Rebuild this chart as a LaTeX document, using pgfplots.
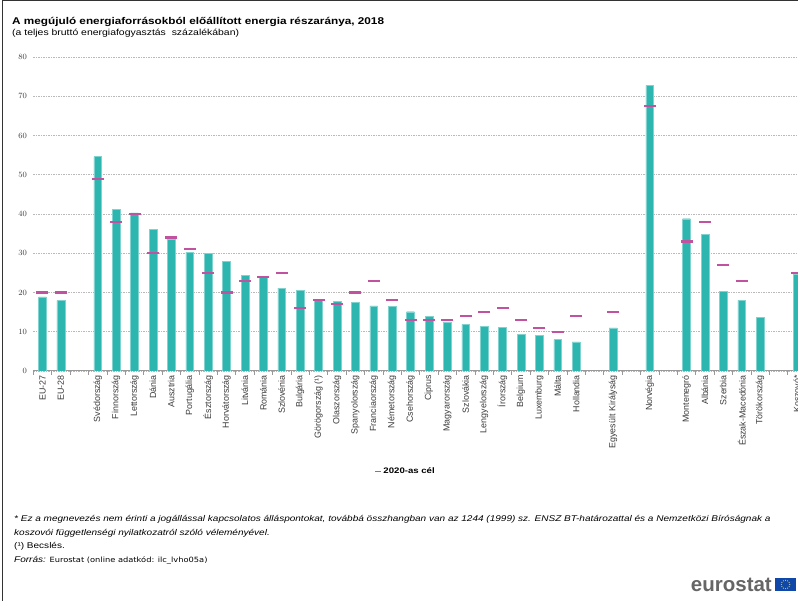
\documentclass[border=0pt]{standalone}
\usepackage{fontspec}
\setmainfont{Liberation Sans}
\newfontfamily\wide[FakeStretch=1.2]{Liberation Sans}
\newfontfamily\verdana[FakeStretch=1.15]{DejaVu Sans}
\usepackage{pgfplots}
\usepackage{pgfplotstable}
\usetikzlibrary{calc}
\pgfplotsset{compat=1.18}
\definecolor{barc}{RGB}{45,181,175}
\definecolor{tgt}{RGB}{192,82,160}
\definecolor{gridc}{RGB}{185,185,185}
\definecolor{txt}{RGB}{60,60,60}
\definecolor{eublue}{RGB}{16,72,170}
\definecolor{euyel}{RGB}{250,220,40}

\pgfplotstableread{
x val
0 18.9
1 18.0
3 54.6
4 41.2
5 40.3
6 36.1
7 33.6
8 30.3
9 30.0
10 28.0
11 24.4
12 23.9
13 21.1
14 20.5
15 18.0
16 17.8
17 17.4
18 16.6
19 16.5
20 15.1
21 13.9
22 12.5
23 11.9
24 11.3
25 11.1
26 9.4
27 9.1
28 8.0
29 7.4
31 11.0
33 72.8
35 38.8
36 34.9
37 20.3
38 18.0
39 13.7
41 24.6
}\bars

\pgfplotstableread{
x t
0 20
1 20
3 49
4 38
5 40
6 30
7 34
8 31
9 25
10 20
11 23
12 24
13 25
14 16
15 18
16 17
17 20
18 23
19 18
20 13
21 13
22 13
23 14
24 15
25 16
26 13
27 11
28 10
29 14
31 15
33 67.5
35 33
36 38
37 27
38 23
41 25
}\targets

\begin{document}
\begin{tikzpicture}[x=1pt,y=1pt]
\useasboundingbox (0,0) rectangle (798,601);
\fill[white] (0,0) rectangle (798,601);
\draw[black!80, line width=0.8pt] (2,0) -- (2,600.5) -- (798,600.5);
% titles
\node[anchor=base west, inner sep=0pt, font=\wide\fontsize{9.8}{12}\selectfont\bfseries] at (12,576) {A megújuló energiaforrásokból előállított energia részaránya, 2018};
\node[anchor=base west, inner sep=0pt, font=\wide\fontsize{8.7}{10}\selectfont] at (12,565) {(a teljes bruttó energiafogyasztás\ \ százalékában)};
\begin{axis}[
  at={(33.3pt,230pt)}, anchor=south west,
  scale only axis, width=764.7pt, height=314pt,
  xmin=-0.5, xmax=41.06, ymin=0, ymax=80,
  axis lines*=left,
  axis line style={-},
  x axis line style={draw=gray!80, line width=1pt},
  y axis line style={draw=none},
  ytick={0,10,...,80},
  ymajorgrids,
  grid style={gridc, dashed, dash pattern=on 1.5pt off 1pt, line width=0.6pt},
  major tick length=0pt,
  minor tick length=4pt,
  minor xtick={-0.5,0.5,...,41.5},
  tick style={gray!80, line width=0.8pt},
  tick align=outside,
  xtick pos=bottom, ytick pos=left,
  xtick={0,1,3,4,5,6,7,8,9,10,11,12,13,14,15,16,17,18,19,20,21,22,23,24,25,26,27,28,29,31,33,35,36,37,38,39,41},
  xticklabels={EU-27,EU-28,Svédország,Finnország,Lettország,Dánia,Ausztria,Portugália,Észtország,Horvátország,Litvánia,Románia,Szlovénia,Bulgária,Görögország (¹),Olaszország,Spanyolország,Franciaország,Németország,Csehország,Ciprus,Magyarország,Szlovákia,Lengyelország,Írország,Belgium,Luxemburg,Málta,Hollandia,Egyesült Királyság,Norvégia,Montenegró,Albánia,Szerbia,Észak-Macedónia,Törökország,Koszovó*},
  xticklabel style={rotate=90, anchor=east, font=\fontsize{8.9}{10}\selectfont, text=txt, inner sep=0pt, xshift=-4pt},
  yticklabel style={font=\wide\fontsize{8}{10}\selectfont, text=txt, xshift=-3pt},
  legend style={at={([yshift=-100pt]axis description cs:0.487,0)}, anchor=center, draw=none, fill=none, font=\wide\fontsize{8}{10}\selectfont\bfseries, inner sep=0pt},
  legend image code/.code={\draw[tgt, line width=0.8pt] (0pt,0pt) -- (6pt,0pt);},
  legend cell align=left,
]
\addplot[ybar, bar width=7.8pt, fill=barc, draw=barc!60, line width=0.4pt, forget plot] table[x=x, y=val] {\bars};
\addplot[only marks, mark=-, mark size=6pt, mark options={line width=2.2pt, draw=tgt}] table[x=x, y=t] {\targets};
\addlegendentry{2020-as cél}
\end{axis}
% footnotes
\begin{scope}[every node/.style={anchor=base west, inner sep=0pt}]
\node[font=\wide\fontsize{8.35}{10}\selectfont\itshape] at (14,79) {* Ez a megnevezés nem érinti a jogállással kapcsolatos álláspontokat, továbbá összhangban van az 1244 (1999) sz. ENSZ BT-határozattal és a Nemzetközi Bíróságnak a};
\node[font=\wide\fontsize{8.35}{10}\selectfont\itshape] at (14,65.5) {koszovói függetlenségi nyilatkozatról szóló véleményével.};
\node[font=\wide\fontsize{8.35}{10}\selectfont] at (14,52) {(¹) Becslés.};
\node[font=\wide\fontsize{8.35}{10}\selectfont] at (14,38.5) {\textit{Forrás:} {\verdana\fontsize{7.2}{9}\selectfont Eurostat (online adatkód: ilc\_lvho05a)}};
\end{scope}
% logo
\node[anchor=base east, inner sep=0pt, text=black!60, font=\fontsize{20.5}{24}\selectfont\bfseries] at (772,9) {eurostat};
\fill[eublue] (775,10) rectangle (796,23);
\foreach \a in {0,30,...,330} {\fill[euyel] ($(785.5,16.5)+(\a:4.2)$) circle (0.55);}
\end{tikzpicture}
\end{document}
